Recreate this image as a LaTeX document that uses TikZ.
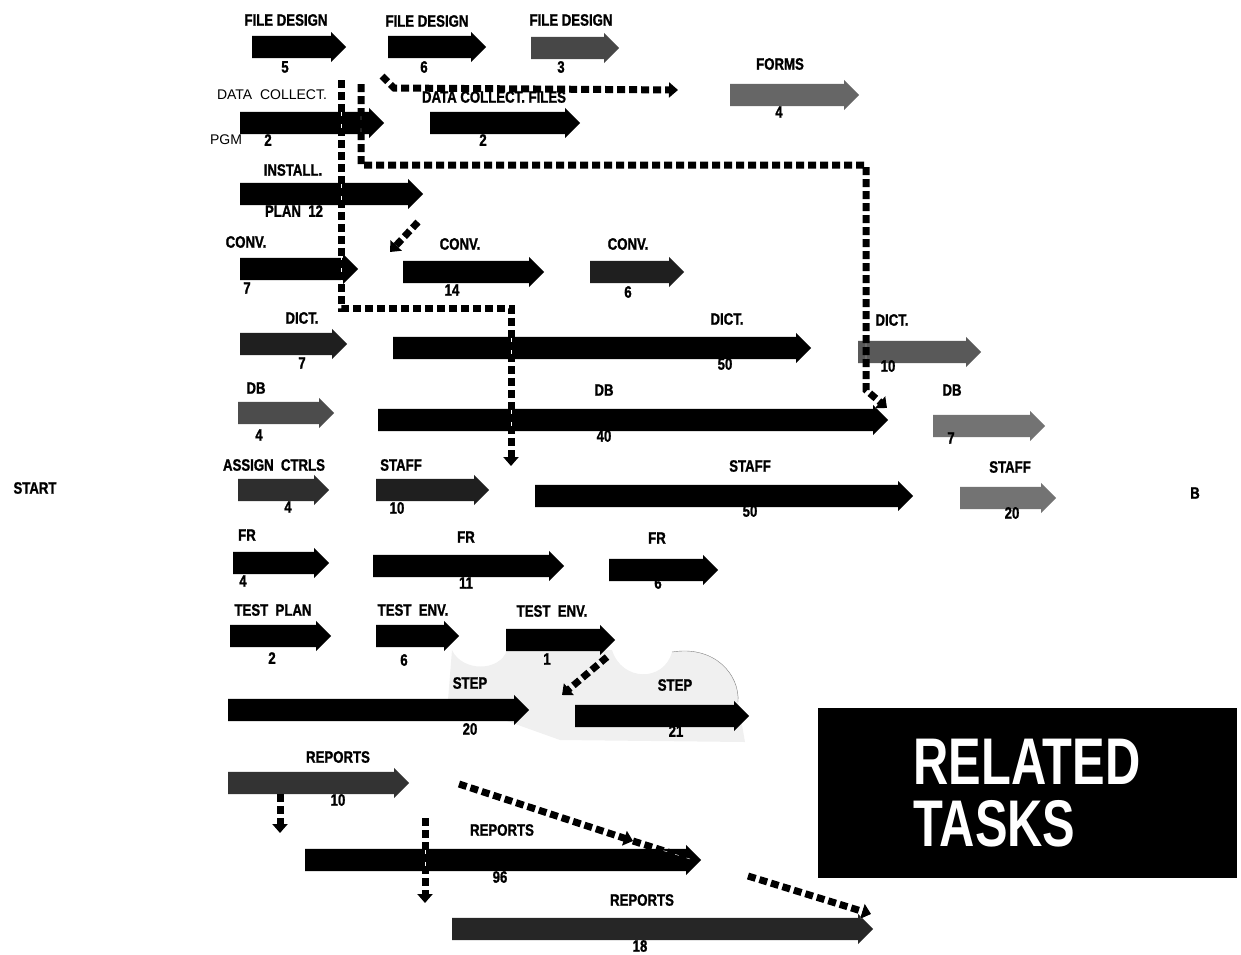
\documentclass[tikz,border=0pt]{standalone}
\usepackage{fontspec}
\setmainfont{Liberation Sans}
\newfontfamily\labfont{Liberation Sans}[FakeStretch=0.8, BoldFeatures={FakeBold=1.2}]
\newfontfamily\bigfont{Liberation Sans}[FakeStretch=0.74]
\usetikzlibrary{shapes.arrows}
\usetikzlibrary{arrows.meta}
\newcommand{\Labsize}{\fontsize{16.5}{16.5}\selectfont}
\tikzstyle{task} = [single arrow, fill=black, draw=none, inner xsep=0pt, inner ysep=11pt, single arrow head extend=4pt, single arrow head indent=0pt, anchor=tail]
\tikzstyle{lab} = [font=\labfont\bfseries\Labsize, inner sep=0pt]
\tikzstyle{dep} = [line width=7pt, dash pattern=on 8pt off 4pt, -{Triangle[length=9pt,width=15pt]}, preaction={draw=white, solid}]

\begin{document}
\begin{tikzpicture}[x=1pt, y=-1pt]
\useasboundingbox (0,0) rectangle (1241,954);

% Shading under the test tasks
\fill[gray!12] (452,650) .. controls (462,672) and (500,672) .. (507,650) -- (612,650)
  .. controls (622,682) and (664,682) .. (672,652)
  .. controls (715,645) and (740,675) .. (738,702) -- (745,742) -- (560,740) -- (448,700) -- cycle;
\draw[gray, thin] (672,652) .. controls (715,645) and (740,675) .. (738,702);

% Define nodes
\node[task, minimum height=94pt]                 (fd1) at (252,47) {};
\node[task, minimum height=98pt]                 (fd2) at (388,47) {};
\node[task, minimum height=88pt, fill=black!72]  (fd3) at (531,48) {};
\node[task, minimum height=129pt, fill=black!60] (frm) at (730,95) {};
\node[task, minimum height=144pt]                (dc1) at (240,123) {};
\node[task, minimum height=150pt]                (dc2) at (430,123) {};
\node[task, minimum height=183pt]                (ins) at (240,194) {};
\node[task, minimum height=118pt]                (cv1) at (240,269) {};
\node[task, minimum height=141pt]                (cv2) at (403,272) {};
\node[task, minimum height=94pt, fill=black!88]  (cv3) at (590,272) {};
\node[task, minimum height=107pt, fill=black!88] (dt1) at (240,344) {};
\node[task, minimum height=418pt]                (dt2) at (393,348) {};
\node[task, minimum height=123pt, fill=black!65] (dt3) at (858,352) {};
\node[task, minimum height=96pt, fill=black!70]  (db1) at (238,413) {};
\node[task, minimum height=510pt]                (db2) at (378,420) {};
\node[task, minimum height=112pt, fill=black!55] (db3) at (933,426) {};
\node[task, minimum height=91pt, fill=black!82]  (asg) at (238,490) {};
\node[task, minimum height=113pt, fill=black!88] (sf1) at (376,490) {};
\node[task, minimum height=378pt]                (sf2) at (535,496) {};
\node[task, minimum height=96pt, fill=black!55]  (sf3) at (960,498) {};
\node[task, minimum height=96pt]                 (fr1) at (233,563) {};
\node[task, minimum height=191pt]                (fr2) at (373,566) {};
\node[task, minimum height=109pt]                (fr3) at (609,570) {};
\node[task, minimum height=101pt]                (tpl) at (230,636) {};
\node[task, minimum height=83pt]                 (te1) at (376,636) {};
\node[task, minimum height=109pt]                (te2) at (506,640) {};
\node[task, minimum height=301pt]                (st1) at (228,710) {};
\node[task, minimum height=174pt]                (st2) at (575,716) {};
\node[task, minimum height=181pt, fill=black!80] (rp1) at (228,783) {};
\node[task, minimum height=396pt]                (rp2) at (305,860) {};
\node[task, minimum height=421pt, fill=black!85] (rp3) at (452,929) {};

% Labels
\node[lab] (fd1t) at (286,20) {FILE DESIGN};  \node[lab] (fd1n) at (285,67) {5};
\node[lab] (fd2t) at (427,21) {FILE DESIGN};  \node[lab] (fd2n) at (424,67) {6};
\node[lab] (fd3t) at (571,20) {FILE DESIGN};  \node[lab] (fd3n) at (561,67) {3};
\node[lab] (frmt) at (780,64) {FORMS};        \node[lab] (frmn) at (779,112) {4};
\node[inner sep=0pt, font=\fontsize{14}{14}\selectfont] (dc1t) at (272,95) {DATA\ \ COLLECT.};
\node[inner sep=0pt, font=\fontsize{14}{14}\selectfont] (dc1p) at (226,140) {PGM};
\node[lab] (dc1n) at (268,140) {2};
\node[lab] (dc2t) at (494,97) {DATA COLLECT. FILES}; \node[lab] (dc2n) at (483,140) {2};
\node[lab] (inst) at (293,170) {INSTALL.};     \node[lab] (insn) at (294,211) {PLAN\ \ 12};
\node[lab] (cv1t) at (246,242) {CONV.};       \node[lab] (cv1n) at (247,288) {7};
\node[lab] (cv2t) at (460,244) {CONV.};       \node[lab] (cv2n) at (452,290) {14};
\node[lab] (cv3t) at (628,244) {CONV.};       \node[lab] (cv3n) at (628,292) {6};
\node[lab] (dt1t) at (302,318) {DICT.};       \node[lab] (dt1n) at (302,363) {7};
\node[lab] (dt2t) at (727,319) {DICT.};       \node[lab] (dt2n) at (725,364) {50};
\node[lab] (dt3t) at (892,320) {DICT.};       \node[lab] (dt3n) at (888,366) {10};
\node[lab] (db1t) at (256,388) {DB};          \node[lab] (db1n) at (259,435) {4};
\node[lab] (db2t) at (604,390) {DB};          \node[lab] (db2n) at (604,436) {40};
\node[lab] (db3t) at (952,390) {DB};          \node[lab] (db3n) at (951,438) {7};
\node[lab] (asgt) at (274,465) {ASSIGN\ \ CTRLS}; \node[lab] (asgn) at (288,507) {4};
\node[lab] (sf1t) at (401,465) {STAFF};       \node[lab] (sf1n) at (397,508) {10};
\node[lab] (sf2t) at (750,466) {STAFF};       \node[lab] (sf2n) at (750,511) {50};
\node[lab] (sf3t) at (1010,467) {STAFF};      \node[lab] (sf3n) at (1012,513) {20};
\node[lab] (fr1t) at (247,535) {FR};          \node[lab] (fr1n) at (243,581) {4};
\node[lab] (fr2t) at (466,537) {FR};          \node[lab] (fr2n) at (466,583) {11};
\node[lab] (fr3t) at (657,538) {FR};          \node[lab] (fr3n) at (658,583) {6};
\node[lab] (tplt) at (273,610) {TEST\ \ PLAN};  \node[lab] (tpln) at (272,658) {2};
\node[lab] (te1t) at (413,610) {TEST\ \ ENV.};  \node[lab] (te1n) at (404,660) {6};
\node[lab] (te2t) at (552,611) {TEST\ \ ENV.};  \node[lab] (te2n) at (547,659) {1};
\node[lab] (st1t) at (470,683) {STEP};        \node[lab] (st1n) at (470,729) {20};
\node[lab] (st2t) at (675,685) {STEP};        \node[lab] (st2n) at (676,731) {21};
\node[lab] (rp1t) at (338,757) {REPORTS};     \node[lab] (rp1n) at (338,800) {10};
\node[lab] (rp2t) at (502,830) {REPORTS};     \node[lab] (rp2n) at (500,877) {96};
\node[lab] (rp3t) at (642,900) {REPORTS};     \node[lab] (rp3n) at (640,946) {18};
\node[lab] (start) at (35,488) {START};
\node[lab] (end)   at (1195,493) {B};
\node[fill=black, text=white, minimum width=419pt, minimum height=170pt, align=left,
      font=\bigfont\bfseries\fontsize{66}{62}\selectfont] (title) at (1027,793) {RELATED\\TASKS};

% Edges
\coordinate (a0) at (341,80);  \coordinate (a1) at (511,308); \coordinate (a2) at (511,466);
\coordinate (b0) at (361,84);  \coordinate (b1) at (866,165); \coordinate (b2) at (866,390); \coordinate (b3) at (887,408);
\coordinate (c0) at (382,76);  \coordinate (c1) at (394,88);  \coordinate (c2) at (678,90);
\coordinate (d0) at (418,222); \coordinate (d1) at (390,252);
\coordinate (e0) at (607,657); \coordinate (e1) at (562,695);
\coordinate (f0) at (280,794); \coordinate (f1) at (280,833);
\coordinate (g0) at (425,818); \coordinate (g1) at (425,903);
\coordinate (h0) at (459,784); \coordinate (h1) at (633,841); \coordinate (h2) at (690,859);
\coordinate (i0) at (748,876); \coordinate (i1) at (871,914);

\draw[dep] (a0) |- (a1) -- (a2);
\draw[dep] (b0) |- (b1) -- (b2) -- (b3);
\draw[dep] (c0) -- (c1) -- (c2);
\draw[dep] (d0) -- (d1);
\draw[dep] (e0) -- (e1);
\draw[dep] (f0) -- (f1);
\draw[dep] (g0) -- (g1);
\draw[dep] (h0) -- (h1);
\draw[dep, -] (h1) -- (h2);
\draw[dep] (i0) -- (i1);

\end{tikzpicture}
\end{document}
